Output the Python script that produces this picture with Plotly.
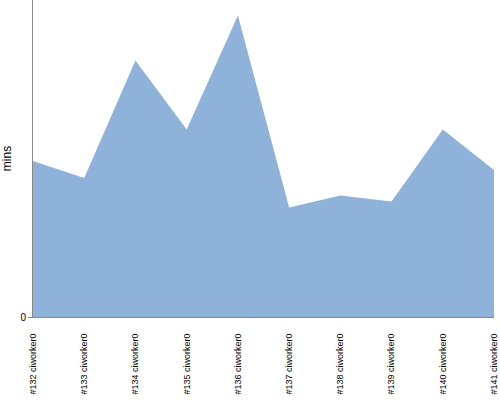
import plotly.graph_objects as go

builds = ["#132 ciworker0", "#133 ciworker0", "#134 ciworker0", "#135 ciworker0",
          "#136 ciworker0", "#137 ciworker0", "#138 ciworker0", "#139 ciworker0",
          "#140 ciworker0", "#141 ciworker0"]
mins = [10.4, 9.27, 17.1, 12.5, 20.1, 7.3, 8.1, 7.7, 12.5, 9.8]

fig = go.Figure()

fig.add_trace(go.Scatter(
    x=list(range(len(builds))),
    y=mins,
    mode="lines",
    fill="tozeroy",
    fillcolor="rgb(143,178,218)",
    line=dict(width=0, color="rgb(143,178,218)"),
    hoverinfo="x+y",
))

fig.update_layout(
    width=500,
    height=400,
    margin=dict(l=33, r=6, t=0, b=83),
    paper_bgcolor="white",
    plot_bgcolor="white",
    showlegend=False,
    font=dict(family="Liberation Sans, Arial, sans-serif", color="black"),
)

fig.update_xaxes(
    range=[0, len(builds) - 1],
    tickmode="array",
    tickvals=list(range(len(builds))),
    ticktext=builds,
    tickangle=-90,
    tickfont=dict(size=9),
    ticks="",
    ticklabelstandoff=12,
    automargin=False,
    showgrid=False,
    zeroline=False,
    showline=True,
    linecolor="#888",
    linewidth=1,
)

fig.update_yaxes(
    range=[0, 21.13],
    tickmode="array",
    tickvals=[0],
    ticktext=["0"],
    tickfont=dict(size=10),
    ticks="outside",
    ticklen=4,
    tickcolor="#888",
    automargin=False,
    showgrid=False,
    zeroline=False,
    showline=True,
    linecolor="#888",
    linewidth=1,
    title=dict(text="mins", font=dict(size=12), standoff=10),
)

# page body has an 8px default margin; drop it so the chart sits at the corner
fig.write_html("out.html", config={"displayModeBar": False},
               post_script="document.body.style.margin='0';")
